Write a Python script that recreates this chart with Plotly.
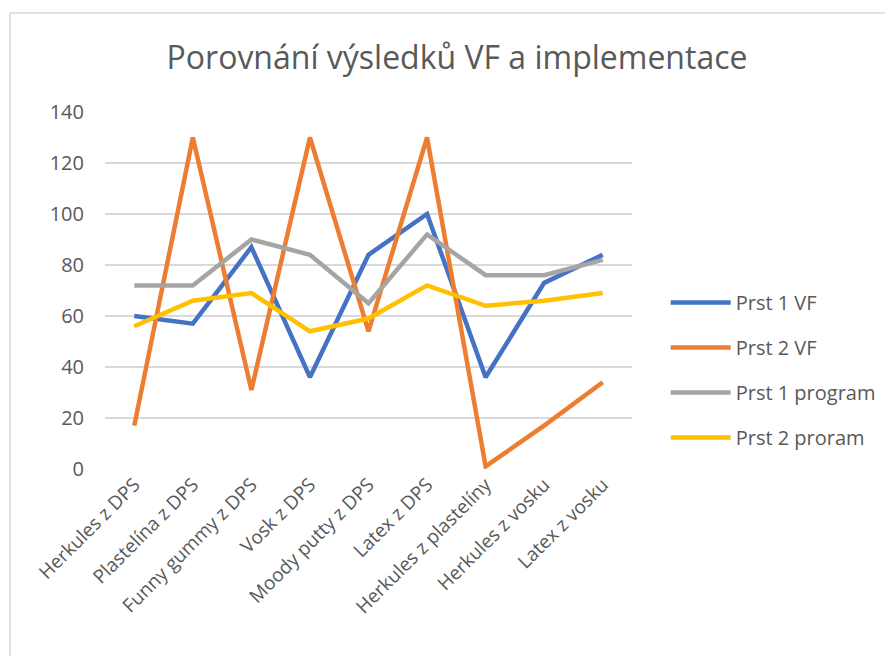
import plotly.graph_objects as go

categories = ["Herkules z DPS", "Plastelína z DPS", "Funny gummy z DPS", "Vosk z DPS",
              "Moody putty z DPS", "Latex z DPS", "Herkules z plastelíny",
              "Herkules z vosku", "Latex z vosku"]

prst1_vf = [60, 57, 87, 36, 84, 100, 36, 73, 84]
prst2_vf = [17, 130, 31, 130, 54, 130, 1, 17, 34]
prst1_program = [72, 72, 90, 84, 65, 92, 76, 76, 82]
prst2_proram = [56, 66, 69, 54, 59, 72, 64, 66, 69]

series = [
    ("Prst 1 VF", prst1_vf, "#4472C4"),
    ("Prst 2 VF", prst2_vf, "#ED7D31"),
    ("Prst 1 program", prst1_program, "#A5A5A5"),
    ("Prst 2 proram", prst2_proram, "#FFC000"),
]

fig = go.Figure()
for i, (name, vals, col) in enumerate(series):
    fig.add_trace(go.Scatter(x=categories, y=vals, mode="lines", name=name,
                             legendgroup=str(i),
                             line=dict(color=col, width=4.5)))

# page body adds 8px, so work in figure pixels
O = 8
W, H = 893 - O, 656 - O
L, R, T, B = 105 - O, 637 - O, 112 - O, 469 - O
def px(x):
    return (x - O - L) / (R - L)
def py(y):
    return (B - (y - O)) / (B - T)

fig.update_layout(
    width=W, height=H,
    margin=dict(l=L, r=W - R, t=T, b=H - B),
    paper_bgcolor="white", plot_bgcolor="white",
    font=dict(family="Open Sans, sans-serif", color="#595959", size=19),
    title=dict(text="Porovnání výsledků VF a implementace", x=(457 - O) / W, xanchor="center",
               y=1 - (58 - O) / H, yanchor="middle",
               font=dict(size=32, color="#595959")),
    showlegend=True,
    legend=dict(x=px(671), y=py(370), xanchor="left", yanchor="middle",
                font=dict(size=20, color="#595959"), tracegroupgap=16,
                itemwidth=60, bgcolor="rgba(0,0,0,0)"),
    xaxis=dict(type="category", range=[-0.5, len(categories) - 0.5],
               tickangle=-45, showgrid=False, showline=False, zeroline=False,
               ticks="", tickfont=dict(size=19, color="#595959")),
    yaxis=dict(range=[0, 140], dtick=20, showgrid=True, gridcolor="#D9D9D9",
               gridwidth=1.5, zeroline=False, showline=False, ticks="",
               ticklabelstandoff=20, tickfont=dict(size=20, color="#595959")),
    shapes=[
        dict(type="line", xref="paper", yref="paper", x0=px(9), x1=px(893), y0=py(13), y1=py(13),
             line=dict(color="#D9D9D9", width=1.5)),
        dict(type="line", xref="paper", yref="paper", x0=px(9), x1=px(9), y0=py(13), y1=py(656),
             line=dict(color="#D9D9D9", width=1.5)),
    ],
)

fig.write_html("out.html")
